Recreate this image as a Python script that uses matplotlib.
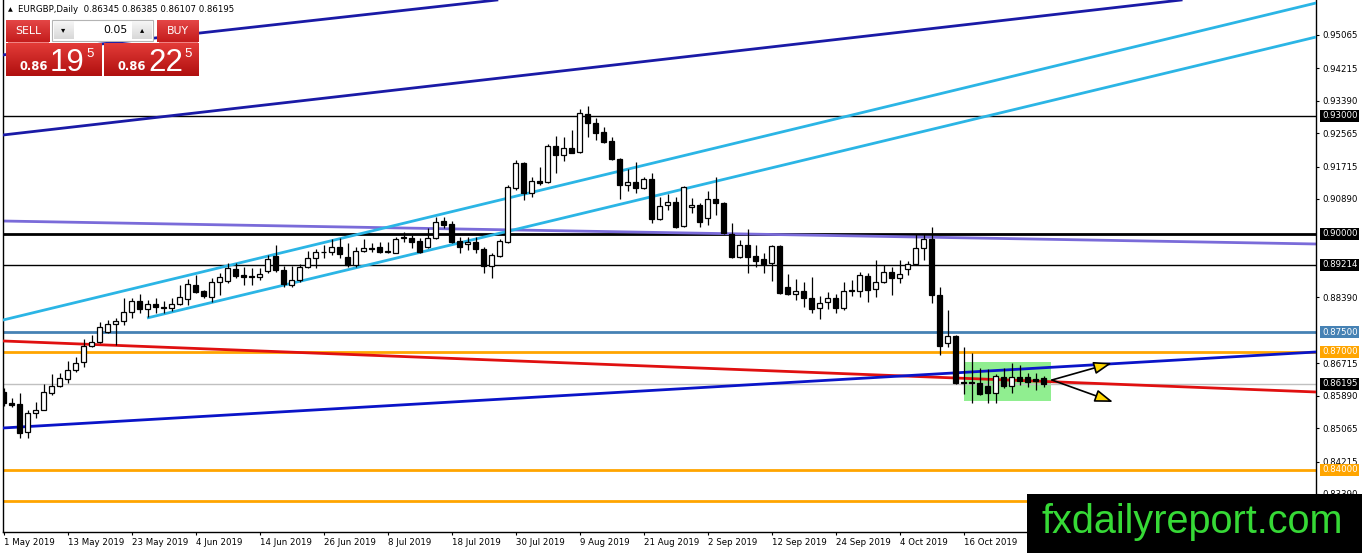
import matplotlib
matplotlib.use('Agg')
import matplotlib.pyplot as plt
import matplotlib.colors as mcolors
import matplotlib.transforms as mtransforms
from matplotlib.patches import Rectangle, FancyArrowPatch
import numpy as np

W, H = 1362, 553

# ---------------- data ----------------
opens = [0.8598, 0.8570, 0.8568, 0.8497, 0.8545, 0.8553, 0.8596, 0.8614, 0.8631, 0.8654,
         0.8674, 0.8715, 0.8725, 0.8751, 0.8771, 0.8779, 0.8802, 0.8830, 0.8809, 0.8822,
         0.8814, 0.8812, 0.8822, 0.8835, 0.8870, 0.8855, 0.8840, 0.8878, 0.8881, 0.8911,
         0.8896, 0.8893, 0.8891, 0.8906, 0.8944, 0.8908, 0.8870, 0.8883, 0.8916, 0.8939,
         0.8954, 0.8954, 0.8967, 0.8941, 0.8921, 0.8957, 0.8964, 0.8967, 0.8957, 0.8952,
         0.8992, 0.8990, 0.8982, 0.8967, 0.8990, 0.9033, 0.9025, 0.8982, 0.8975, 0.8980,
         0.8962, 0.8918, 0.8944, 0.8980, 0.9117, 0.9180, 0.9104, 0.9135, 0.9132, 0.9224,
         0.9201, 0.9219, 0.9208, 0.9305, 0.9282, 0.9259, 0.9237, 0.9191, 0.9124, 0.9132,
         0.9117, 0.9140, 0.9038, 0.9074, 0.9081, 0.9020, 0.9068, 0.9074, 0.9041, 0.9089,
         0.9079, 0.8999, 0.8941, 0.8972, 0.8944, 0.8936, 0.8926, 0.8970, 0.8865, 0.8847,
         0.8855, 0.8837, 0.8812, 0.8827, 0.8837, 0.8812, 0.8855, 0.8855, 0.8893, 0.8860,
         0.8878, 0.8903, 0.8888, 0.8911, 0.8924, 0.8964, 0.8987, 0.8845, 0.8723, 0.8741,
         0.8624, 0.8624, 0.8621, 0.8614, 0.8596, 0.8636, 0.8614, 0.8636, 0.8636, 0.8631,
         0.86345]
highs = [0.8609, 0.8583, 0.8596, 0.8553, 0.8573, 0.8619, 0.8644, 0.8647, 0.8677, 0.8687,
         0.8733, 0.8743, 0.8776, 0.8781, 0.8786, 0.8837, 0.8837, 0.8847, 0.8832, 0.8837,
         0.8830, 0.8837, 0.8870, 0.8886, 0.8896, 0.8858, 0.8888, 0.8901, 0.8926, 0.8926,
         0.8916, 0.8913, 0.8913, 0.8947, 0.8972, 0.8918, 0.8918, 0.8924, 0.8957, 0.8962,
         0.8972, 0.8987, 0.8990, 0.8977, 0.8967, 0.8987, 0.8977, 0.8980, 0.8980, 0.8992,
         0.9005, 0.8997, 0.8990, 0.9015, 0.9043, 0.9043, 0.9033, 0.8992, 0.8992, 0.8992,
         0.8967, 0.8952, 0.8987, 0.9124, 0.9188, 0.9183, 0.9145, 0.9170, 0.9229, 0.9249,
         0.9247, 0.9264, 0.9318, 0.9325, 0.9295, 0.9272, 0.9247, 0.9193, 0.9165, 0.9183,
         0.9145, 0.9155, 0.9094, 0.9102, 0.9094, 0.9122, 0.9091, 0.9079, 0.9109, 0.9145,
         0.9081, 0.9028, 0.8985, 0.9013, 0.8972, 0.8952, 0.8972, 0.8972, 0.8898, 0.8886,
         0.8878, 0.8891, 0.8842, 0.8853, 0.8847, 0.8878, 0.8883, 0.8903, 0.8901, 0.8934,
         0.8921, 0.8916, 0.8934, 0.8931, 0.9000, 0.9000, 0.9018, 0.8865, 0.8807, 0.8743,
         0.8713, 0.8697, 0.8659, 0.8657, 0.8644, 0.8659, 0.8672, 0.8667, 0.8647, 0.8647,
         0.86385]
lows = [0.8563, 0.8560, 0.8481, 0.8481, 0.8532, 0.8552, 0.8591, 0.8611, 0.8621, 0.8649,
        0.8662, 0.8712, 0.8723, 0.8748, 0.8718, 0.8769, 0.8786, 0.8799, 0.8789, 0.8799,
        0.8799, 0.8804, 0.8819, 0.8819, 0.8850, 0.8837, 0.8827, 0.8845, 0.8875, 0.8888,
        0.8870, 0.8870, 0.8883, 0.8901, 0.8903, 0.8865, 0.8865, 0.8878, 0.8913, 0.8913,
        0.8939, 0.8947, 0.8939, 0.8916, 0.8916, 0.8954, 0.8954, 0.8952, 0.8952, 0.8952,
        0.8980, 0.8964, 0.8952, 0.8964, 0.8987, 0.9015, 0.8977, 0.8952, 0.8959, 0.8952,
        0.8901, 0.8888, 0.8941, 0.8977, 0.9112, 0.9086, 0.9094, 0.9124, 0.9130, 0.9155,
        0.9186, 0.9205, 0.9207, 0.9247, 0.9239, 0.9231, 0.9188, 0.9089, 0.9109, 0.9104,
        0.9114, 0.9028, 0.9036, 0.9061, 0.9015, 0.9018, 0.9053, 0.9018, 0.9023, 0.9048,
        0.8999, 0.8939, 0.8940, 0.8901, 0.8916, 0.8901, 0.8881, 0.8847, 0.8845, 0.8832,
        0.8814, 0.8799, 0.8784, 0.8809, 0.8799, 0.8807, 0.8842, 0.8840, 0.8827, 0.8840,
        0.8875, 0.8845, 0.8875, 0.8896, 0.8921, 0.8934, 0.8825, 0.8692, 0.8713, 0.8619,
        0.8593, 0.8570, 0.8591, 0.8570, 0.8570, 0.8609, 0.8596, 0.8616, 0.8611, 0.8603,
        0.86107]
closes = [0.8570, 0.8565, 0.8494, 0.8545, 0.8553, 0.8598, 0.8614, 0.8634, 0.8654, 0.8672,
          0.8715, 0.8725, 0.8763, 0.8771, 0.8779, 0.8802, 0.8830, 0.8809, 0.8822, 0.8814,
          0.8812, 0.8822, 0.8840, 0.8873, 0.8853, 0.8842, 0.8878, 0.8891, 0.8913, 0.8893,
          0.8891, 0.8891, 0.8898, 0.8936, 0.8908, 0.8873, 0.8883, 0.8916, 0.8939, 0.8954,
          0.8955, 0.8967, 0.8949, 0.8921, 0.8957, 0.8964, 0.8963, 0.8954, 0.8954, 0.8987,
          0.8990, 0.8980, 0.8954, 0.8990, 0.9030, 0.9023, 0.8980, 0.8967, 0.8980, 0.8962,
          0.8918, 0.8947, 0.8982, 0.9119, 0.9180, 0.9104, 0.9135, 0.9130, 0.9224, 0.9201,
          0.9219, 0.9206, 0.9308, 0.9282, 0.9257, 0.9234, 0.9191, 0.9124, 0.9132, 0.9117,
          0.9140, 0.9038, 0.9071, 0.9081, 0.9018, 0.9119, 0.9074, 0.9030, 0.9089, 0.9079,
          0.9002, 0.8941, 0.8972, 0.8941, 0.8931, 0.8924, 0.8970, 0.8850, 0.8847, 0.8855,
          0.8837, 0.8809, 0.8825, 0.8837, 0.8812, 0.8855, 0.8858, 0.8896, 0.8858, 0.8878,
          0.8903, 0.8888, 0.8898, 0.8924, 0.8964, 0.8987, 0.8845, 0.8715, 0.8741, 0.8621,
          0.8621, 0.8621, 0.8593, 0.8596, 0.8639, 0.8614, 0.8636, 0.8626, 0.8624, 0.8626,
          0.86195]

date_tick_bars = [0, 8, 16, 24, 32, 40, 48, 56, 64, 72, 80, 88, 96, 104, 112, 120]
date_tick_labels = ['1 May 2019', '13 May 2019', '23 May 2019', '4 Jun 2019', '14 Jun 2019',
                    '26 Jun 2019', '8 Jul 2019', '18 Jul 2019', '30 Jul 2019', '9 Aug 2019',
                    '21 Aug 2019', '2 Sep 2019', '12 Sep 2019', '24 Sep 2019', '4 Oct 2019',
                    '16 Oct 2019']

price_ticks = [0.95065, 0.94215, 0.93390, 0.92565, 0.91715, 0.90890, 0.88390,
               0.86715, 0.85890, 0.85065, 0.84215, 0.83390]

# horizontal levels: price, colour, width, label background (None = no label shown)
hline_prices = [0.93000, 0.90000, 0.89214, 0.87500, 0.87000, 0.86195, 0.84000, 0.83220]
hline_colors = ['black', 'black', 'black', '#4682B4', '#FFA500', '#C0C0C0', '#FFA500', '#FFA500']
hline_widths = [1.0, 2.0, 1.0, 2.0, 2.0, 1.0, 2.0, 2.0]
hline_label_bg = ['black', 'black', 'black', '#4682B4', '#FFA500', 'black', '#FFA500', None]

# trend lines: two points each (bar index, price)
trend_navy_a = [(24.56, 0.95110), (58.31, 0.95873)]
trend_navy_b = [(-0.06, 0.92517), (143.94, 0.95873)]
trend_cyan_up = [(-0.06, 0.87813), (164.06, 0.95873)]
trend_cyan_low = [(17.94, 0.87864), (164.06, 0.95008)]
trend_purple = [(-0.06, 0.90330), (164.06, 0.89746)]
trend_red = [(-0.06, 0.87280), (164.06, 0.85983)]
trend_blue_low = [(-0.06, 0.85068), (164.06, 0.87000)]

range_box = (120.0, 130.93, 0.85754, 0.86746)   # bar start, bar end, low, high
arrow_start = (131.05, 0.86288)
arrow_up_end = (138.55, 0.86720)
arrow_down_end = (138.7, 0.85729)

symbol = 'EURGBP,Daily'
bid_text = ('0.86', '19', '5')
ask_text = ('0.86', '22', '5')
lot_text = '0.05'
watermark = 'fxdailyreport.com'

# ---------------- figure ----------------
fig = plt.figure(figsize=(W / 100, H / 100), dpi=100)
fig.patch.set_facecolor('white')
ax = fig.add_axes([3 / W, 21 / H, 1313 / W, 532 / H])
ax.set_facecolor('white')

ymax = 0.95949
ymin = ymax - 532 / 3933.3
ax.set_ylim(ymin, ymax)
ax.set_xlim(-0.0625, 164.06)

TXT = dict(family='DejaVu Sans', size=6.2)

# horizontal levels
for p, col, lw in zip(hline_prices, hline_colors, hline_widths):
    ax.axhline(p, color=col, lw=lw, zorder=2)

# range box
ax.add_patch(Rectangle((range_box[0], range_box[2]), range_box[1] - range_box[0],
                       range_box[3] - range_box[2], facecolor='#90EE90', edgecolor='none', zorder=1.5))

# trend lines
ax.axline(*trend_navy_a, color='#1A1AA6', lw=2, zorder=3)
ax.axline(*trend_navy_b, color='#1A1AA6', lw=2, zorder=3)
ax.axline(*trend_cyan_up, color='#2BB5E5', lw=2, zorder=3)
ax.plot([trend_cyan_low[0][0], trend_cyan_low[1][0]], [trend_cyan_low[0][1], trend_cyan_low[1][1]],
        color='#2BB5E5', lw=2, zorder=3, solid_capstyle='butt')
ax.axline(*trend_purple, color='#7A6BD9', lw=2, zorder=2.5)
ax.axline(*trend_red, color='#E01010', lw=2, zorder=3)
ax.axline(*trend_blue_low, color='#0A14C8', lw=2, zorder=3)

# candles
o = np.array(opens); c = np.array(closes); hi = np.array(highs); lo = np.array(lows)
xs = np.arange(len(o))
up = c >= o
ax.vlines(xs, lo, hi, color='black', lw=0.9, zorder=4)
bottom = np.minimum(o, c)
height = np.maximum(np.abs(c - o), 1e-6)
ax.bar(xs, height, bottom=bottom, width=0.58,
       color=np.where(up, 'white', 'black'), edgecolor='black', lw=0.9, zorder=5)

# arrows
for end in (arrow_up_end, arrow_down_end):
    ax.add_patch(FancyArrowPatch(arrow_start, end,
                                 arrowstyle='-|>,head_length=1.1,head_width=0.38',
                                 mutation_scale=10, facecolor='#FFD700', edgecolor='black',
                                 lw=1.2, shrinkA=0, shrinkB=0, zorder=6))

# axes styling
ax.spines['top'].set_visible(False)
for s in ['left', 'right', 'bottom']:
    ax.spines[s].set_color('black')
    ax.spines[s].set_linewidth(1)

ax.yaxis.tick_right()
ax.set_yticks(price_ticks)
ax.set_yticklabels([f'{v:.5f}' for v in price_ticks], **TXT)
ax.tick_params(axis='y', direction='out', length=2.3, width=0.8, pad=2.2, colors='black')
ax.set_xticks(date_tick_bars)
ax.set_xticklabels(date_tick_labels, ha='left', **TXT)
ax.tick_params(axis='x', direction='out', length=2.3, width=0.8, pad=1.8, colors='black')

# level labels on the price scale
trans = mtransforms.blended_transform_factory(ax.transAxes, ax.transData)
for p, bg in zip(hline_prices, hline_label_bg):
    if bg is None:
        continue
    ax.text(1 + 6 / 1313, p, f'{p:.5f}', transform=trans, ha='left', va='center', color='white',
            clip_on=False, zorder=10, bbox=dict(boxstyle='square,pad=0.18', facecolor=bg, edgecolor='none'),
            **TXT)

# ---------------- overlay (panel, header, watermark) ----------------
ov = fig.add_axes([0, 0, 1, 1], zorder=20)
ov.axis('off')


def grad_rect(x0, y0, x1, y1, ctop, cbot, z=21):
    t = np.linspace(0, 1, 64)[:, None, None]
    a = np.array(mcolors.to_rgb(ctop))[None, None, :]
    b = np.array(mcolors.to_rgb(cbot))[None, None, :]
    img = a * (1 - t) + b * t
    ov.imshow(img, extent=(x0, x1, y1, y0), aspect='auto', interpolation='bilinear', zorder=z)


# header
ov.text(8, 10, '▲', fontsize=4.5, family='DejaVu Sans', va='center', ha='left', color='black', zorder=25)
ov.text(18, 10, f'{symbol}  {opens[-1]:.5f} {highs[-1]:.5f} {lows[-1]:.5f} {closes[-1]:.5f}',
        va='center', ha='left', color='black', zorder=25, **TXT)

# sell / buy buttons
grad_rect(6, 20, 50, 42, '#E44646', '#C41C1C')
grad_rect(157, 20, 199, 42, '#E44646', '#C41C1C')
ov.text(28, 31, 'SELL', color='white', fontsize=7.8, family='DejaVu Sans', ha='center', va='center', zorder=25)
ov.text(178, 31, 'BUY', color='white', fontsize=7.8, family='DejaVu Sans', ha='center', va='center', zorder=25)
ov.plot([8, 48], [41.5, 41.5], color='#F08080', lw=0.7, zorder=24)
ov.plot([159, 197], [41.5, 41.5], color='#F08080', lw=0.7, zorder=24)

# lot spinner
ov.add_patch(Rectangle((52, 20), 101, 21, facecolor='white', edgecolor='#B4B4B4', lw=0.8, zorder=22))
grad_rect(53.5, 21.5, 73, 39.5, '#F6F6F6', '#D8D8D8', z=23)
grad_rect(132, 21.5, 151.5, 39.5, '#F6F6F6', '#D8D8D8', z=23)
ov.text(63, 30, '▾', fontsize=6, family='DejaVu Sans', ha='center', va='center', color='black', zorder=25)
ov.text(142, 29.5, '▴', fontsize=6, family='DejaVu Sans', ha='center', va='center', color='black', zorder=25)
ov.text(128, 30, lot_text, fontsize=7.8, family='DejaVu Sans', ha='right', va='center', color='black', zorder=25)

# price boxes
grad_rect(6, 43, 102, 76, '#E33B38', '#B0100F')
grad_rect(104, 43, 199, 76, '#E33B38', '#B0100F')
for (small, big, sup), x0 in zip([bid_text, ask_text], [20, 118]):
    ov.text(x0, 70.5, small, color='white', fontsize=8.3, fontweight='bold', family='DejaVu Sans',
            ha='left', va='baseline', zorder=25)
    ov.text(x0 + 30, 71, big, color='white', fontsize=22.5, family='Liberation Sans',
            ha='left', va='baseline', zorder=25)
    ov.text(x0 + 66, 57, sup, color='white', fontsize=9.5, family='Liberation Sans',
            ha='left', va='baseline', zorder=25)

# watermark banner
ov.add_patch(Rectangle((1027, 494), W - 1027, H - 494, facecolor='black', edgecolor='none', zorder=22))
ov.text(1042, 533, watermark, color='#36D936', fontsize=28.5, family='Liberation Sans',
        ha='left', va='baseline', zorder=25)

ov.set_xlim(0, W)
ov.set_ylim(H, 0)

fig.savefig('out.png', dpi=100, facecolor='white')
